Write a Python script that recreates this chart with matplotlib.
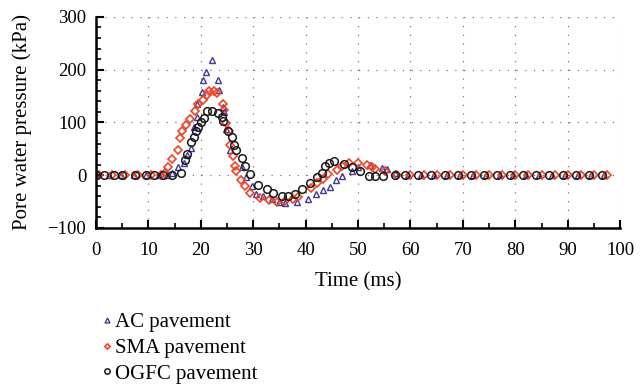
import numpy as np
import matplotlib.pyplot as plt
from matplotlib.ticker import MultipleLocator

# AC pavement
ac_t = [0, 2.4, 4.8, 7.2, 9.6, 12.0, 13.6, 14.6, 15.6, 16.8, 17.4, 18.1, 18.7, 19.3, 19.3,
        20.2, 20.5, 21.0, 22.1, 23.2, 23.5, 24.2, 24.5, 24.9, 25.6, 27.8, 28.6, 29.7, 30.5,
        31.9, 33.5, 35.0, 36.1, 38.3, 40.4, 41.9, 43.3, 44.7, 45.8, 46.9, 48.8, 50.0, 52.3,
        54.5, 55.5, 57.0, 59.5, 62.0, 64.5, 67.0, 69.5, 72.0, 74.5, 77.0, 79.5, 82.0, 84.5,
        87.0, 89.5, 92.0, 94.5, 97.0]
ac_p = [0, 0, 0, 0, 0, 0, 1, 4, 15, 24, 39, 52, 92, 111, 134,
        157, 180, 196, 218, 180, 162, 130, 120, 88, 48, 16, -3, -21, -35,
        -40, -46, -50, -53, -51, -46, -36, -29, -23, -10, -2, 8.5, 15, 20,
        14, 12, 5, 0, 0, 0, 0, 0, 0, 0, 0, 0, 0, 0,
        0, 0, 0, 0, 0]

# SMA pavement
sma_t = [0.5, 3.0, 5.5, 8.0, 10.5, 12.4, 13.2, 13.8, 14.6, 15.6, 16.0, 16.5, 17.1, 17.9,
         18.9, 19.5, 20.4, 21.2, 21.6, 22.5, 23.0, 24.2, 24.5, 24.9, 25.3, 25.6, 26.1, 26.5,
         26.8, 27.6, 28.4, 29.4, 31.3, 33.0, 34.5, 36.0, 37.5, 38.6, 41.0, 42.1, 43.4, 44.3,
         45.9, 46.9, 48.2, 49.9, 51.7, 52.6, 53.2, 55.2, 57.5, 60.0, 62.5, 65.0, 67.5, 70.0,
         72.5, 75.0, 77.5, 80.0, 82.5, 85.0, 87.5, 90.0, 92.5, 95.0, 97.5]
sma_p = [0, 0, 0, 0, 0, 1, 5, 16, 31, 48, 70, 83, 96, 106,
         121, 134, 143, 152, 159, 159, 156, 134, 124, 99, 83, 58, 36, 18,
         7, -9, -21, -34, -43, -48, -50, -49, -46, -41, -24, -15, -7, 2,
         10, 18, 24, 24, 20, 16, 12, 7, 0, 0, 0, 0, 0, 0,
         0, 0, 0, 0, 0, 0, 0, 0, 0, 0, 0]

# OGFC pavement
ogfc_t = [0, 1.5, 3.5, 5.0, 7.5, 9.5, 11.0, 12.8, 14.5, 16.2, 16.9, 17.3, 18.1, 18.7, 19.1,
          19.5, 20.0, 20.6, 21.2, 22.2, 23.3, 24.0, 24.3, 25.1, 25.9, 26.3, 26.7, 27.8, 28.4,
          29.3, 30.9, 32.6, 33.7, 35.4, 36.7, 38.0, 39.4, 40.8, 42.1, 43.1, 43.7, 44.5, 45.5,
          47.3, 48.8, 50.4, 52.0, 53.2, 54.8, 57.0, 59.0, 61.5, 64.0, 66.5, 69.0, 71.5, 74.0,
          76.5, 79.0, 81.5, 84.0, 86.5, 89.0, 91.5, 94.0, 96.5]
ogfc_p = [0, 0, 0, 0, 0, 0, 0, 0, 0, 5, 29, 41, 62, 72, 84,
          91, 100, 108, 121, 122, 117, 110, 102, 84, 72, 58, 48, 33, 17,
          3, -18, -27, -33, -39, -40, -35, -27, -15, -3, 5, 18, 24, 26,
          22, 15, 7, -1, -1, -1, 0, 0, 0, 0, 0, 0, 0, 0,
          0, 0, 0, 0, 0, 0, 0, 0, 0]

plt.rcParams['font.family'] = ['Liberation Serif', 'DejaVu Serif']

fig = plt.figure(figsize=(6.44, 3.85), dpi=100)
ax = fig.add_axes([0.149, 0.408, 0.814, 0.548])

ax.plot(ac_t, ac_p, linestyle='none', marker='^', markersize=5, markerfacecolor='none',
        markeredgecolor='#3b3a98', markeredgewidth=1.0, label='AC pavement')
ax.plot(sma_t, sma_p, linestyle='none', marker='D', markersize=3.8, markerfacecolor='none',
        markeredgecolor='#ee4427', markeredgewidth=1.2, label='SMA pavement')
ax.plot(ogfc_t, ogfc_p, linestyle='none', marker='o', markersize=5.5, markerfacecolor='none',
        markeredgecolor='#1a1a1a', markeredgewidth=1.1, label='OGFC pavement')

ax.set_xlim(0, 100)
ax.set_ylim(-100, 300)
ax.xaxis.set_major_locator(MultipleLocator(10))
ax.xaxis.set_minor_locator(MultipleLocator(5))
ax.yaxis.set_major_locator(MultipleLocator(100))
ax.yaxis.set_minor_locator(MultipleLocator(20))
ax.yaxis.set_major_formatter(plt.FuncFormatter(lambda v, p: f"{v:.0f}".replace('-', '\u2212')))
ax.tick_params(which='major', direction='in', length=6, width=1.5, labelsize=13.5)
ax.tick_params(axis='x', which='major', pad=10)
ax.tick_params(axis='y', which='major', pad=7)
ax.tick_params(which='minor', direction='in', length=3.5, width=1.2)
ax.spines['top'].set_visible(False)
ax.spines['right'].set_visible(False)
ax.spines['left'].set_linewidth(1.8)
ax.spines['bottom'].set_linewidth(1.8)
ax.grid(True, which='major', color='#777777', linestyle=(0, (1, 6)), linewidth=0.9)

ax.set_xlabel('Time (ms)', fontsize=15, labelpad=10)
ax.set_ylabel('Pore water pressure (kPa)', fontsize=15, labelpad=11)

fig.legend(loc='upper left', bbox_to_anchor=(0.145, 0.21), frameon=False, fontsize=15,
           handletextpad=0.15, labelspacing=0.3, handlelength=0.5, markerscale=0.7,
           borderaxespad=0)

fig.savefig('out.png', dpi=100)
